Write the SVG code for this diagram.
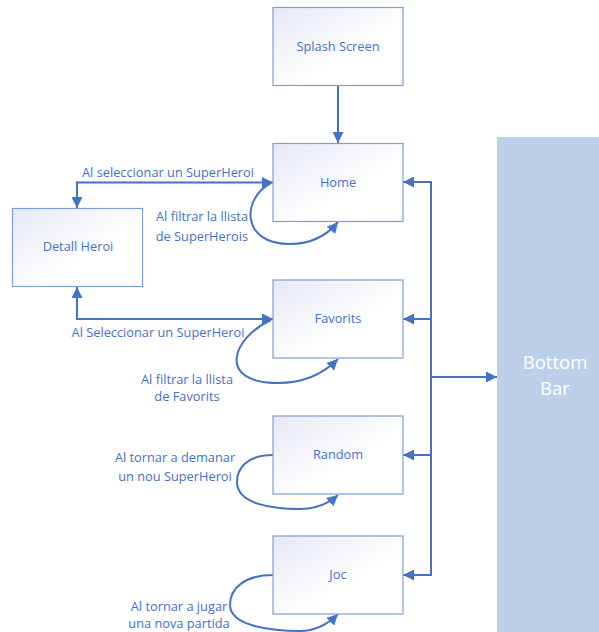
<svg xmlns="http://www.w3.org/2000/svg" width="599" height="632" viewBox="0 0 599 632">
  <style>
    .box { fill: url(#boxFill); stroke: #7F9FD8; stroke-width: 1.2; }
    .lbl { font-family: "Open Sans", "Noto Sans", sans-serif; font-size: 12.8px; fill: #4472C4; }
    .mid { text-anchor: middle; }
    .end { text-anchor: end; }
    .wire { fill: none; stroke: #4472C4; stroke-width: 2; }
    .bar-text { font-family: "Open Sans", "Noto Sans", sans-serif; font-size: 18.5px; fill: #FFFFFF; text-anchor: middle; }
  </style>
  <defs>
    <linearGradient id="boxFill" x1="0" y1="0" x2="1" y2="1">
      <stop offset="0" stop-color="#E6E9F5"/>
      <stop offset="0.6" stop-color="#FFFFFF"/>
      <stop offset="1" stop-color="#FFFFFF"/>
    </linearGradient>
    <marker id="arrow" viewBox="0 0 10 10" refX="10" refY="5" markerWidth="5.5" markerHeight="5.5" orient="auto" markerUnits="strokeWidth">
      <path d="M0,0 L10,5 L0,10 Z" fill="#4472C4"/>
    </marker>
  </defs>

  <rect width="599" height="632" fill="#FFFFFF"/>

  <!-- bottom navigation bar -->
  <g id="bottom-bar">
    <rect x="497" y="137" width="110" height="500" fill="#BDD0E9"/>
    <text class="bar-text" x="555" y="369">Bottom</text>
    <text class="bar-text" x="555" y="395">Bar</text>
  </g>

  <!-- connectors -->
  <g id="connectors">
    <!-- splash to home -->
    <path class="wire" d="M338,85 L338,143" marker-end="url(#arrow)"/>
    <!-- home <-> detail -->
    <path class="wire" d="M77,182.5 L273,182.5" marker-end="url(#arrow)"/>
    <path class="wire" d="M77,181.5 L77,208" marker-end="url(#arrow)"/>
    <!-- favorits <-> detail -->
    <path class="wire" d="M77,319 L273,319" marker-end="url(#arrow)"/>
    <path class="wire" d="M77,320 L77,287" marker-end="url(#arrow)"/>
    <!-- self loops -->
    <path class="wire" d="M271,183 C242,198 240,244 290,244 C312,244 328,234 338,222" marker-end="url(#arrow)"/>
    <path class="wire" d="M271,320 C232,338 216,383 278,383 C305,383 325,372 338,359" marker-end="url(#arrow)"/>
    <path class="wire" d="M273,455 C245,455 237,470 237,482 C237,505 275,509 300,509 C318,509 330,502 338,495" marker-end="url(#arrow)"/>
    <path class="wire" d="M273,575 C245,575 230,588 230,605 C230,627 275,631 300,631 C318,631 330,622 338,614" marker-end="url(#arrow)"/>
    <!-- bottom bar distribution -->
    <path class="wire" d="M431,182 L431,575"/>
    <path class="wire" d="M432,182 L403,182" marker-end="url(#arrow)"/>
    <path class="wire" d="M431,319 L403,319" marker-end="url(#arrow)"/>
    <path class="wire" d="M431,455 L403,455" marker-end="url(#arrow)"/>
    <path class="wire" d="M432,575 L403,575" marker-end="url(#arrow)"/>
    <path class="wire" d="M431,377 L497,377" stroke-width="2.5" marker-end="url(#arrow)"/>
  </g>

  <!-- edge labels -->
  <g id="edge-labels">
    <text class="lbl mid" x="168" y="177">Al seleccionar un SuperHeroi</text>
    <text class="lbl end" x="248" y="221">Al filtrar la llista</text>
    <text class="lbl end" x="248" y="241">de SuperHerois</text>
    <text class="lbl mid" x="158" y="337">Al Seleccionar un SuperHeroi</text>
    <text class="lbl mid" x="187" y="384">Al filtrar la llista</text>
    <text class="lbl mid" x="187" y="401">de Favorits</text>
    <text class="lbl mid" x="175" y="462">Al tornar a demanar</text>
    <text class="lbl mid" x="175" y="481">un nou SuperHeroi</text>
    <text class="lbl mid" x="179" y="611">Al tornar a jugar</text>
    <text class="lbl mid" x="179" y="628">una nova partida</text>
  </g>

  <g id="splash">
    <rect class="box" x="273" y="7.5" width="130" height="78"/>
    <text class="lbl mid" x="338" y="51">Splash Screen</text>
  </g>
  <g id="home">
    <rect class="box" x="273" y="143.5" width="130" height="78"/>
    <text class="lbl mid" x="338" y="187">Home</text>
  </g>
  <g id="detall">
    <rect class="box" x="12.5" y="208.5" width="130" height="78"/>
    <text class="lbl mid" x="78" y="251">Detall Heroi</text>
  </g>
  <g id="favorits">
    <rect class="box" x="273" y="280" width="130" height="78"/>
    <text class="lbl mid" x="338" y="323">Favorits</text>
  </g>
  <g id="random">
    <rect class="box" x="273" y="416" width="130" height="78"/>
    <text class="lbl mid" x="338" y="459">Random</text>
  </g>
  <g id="joc">
    <rect class="box" x="273" y="536" width="130" height="78"/>
    <text class="lbl mid" x="338" y="579">Joc</text>
  </g>
</svg>
